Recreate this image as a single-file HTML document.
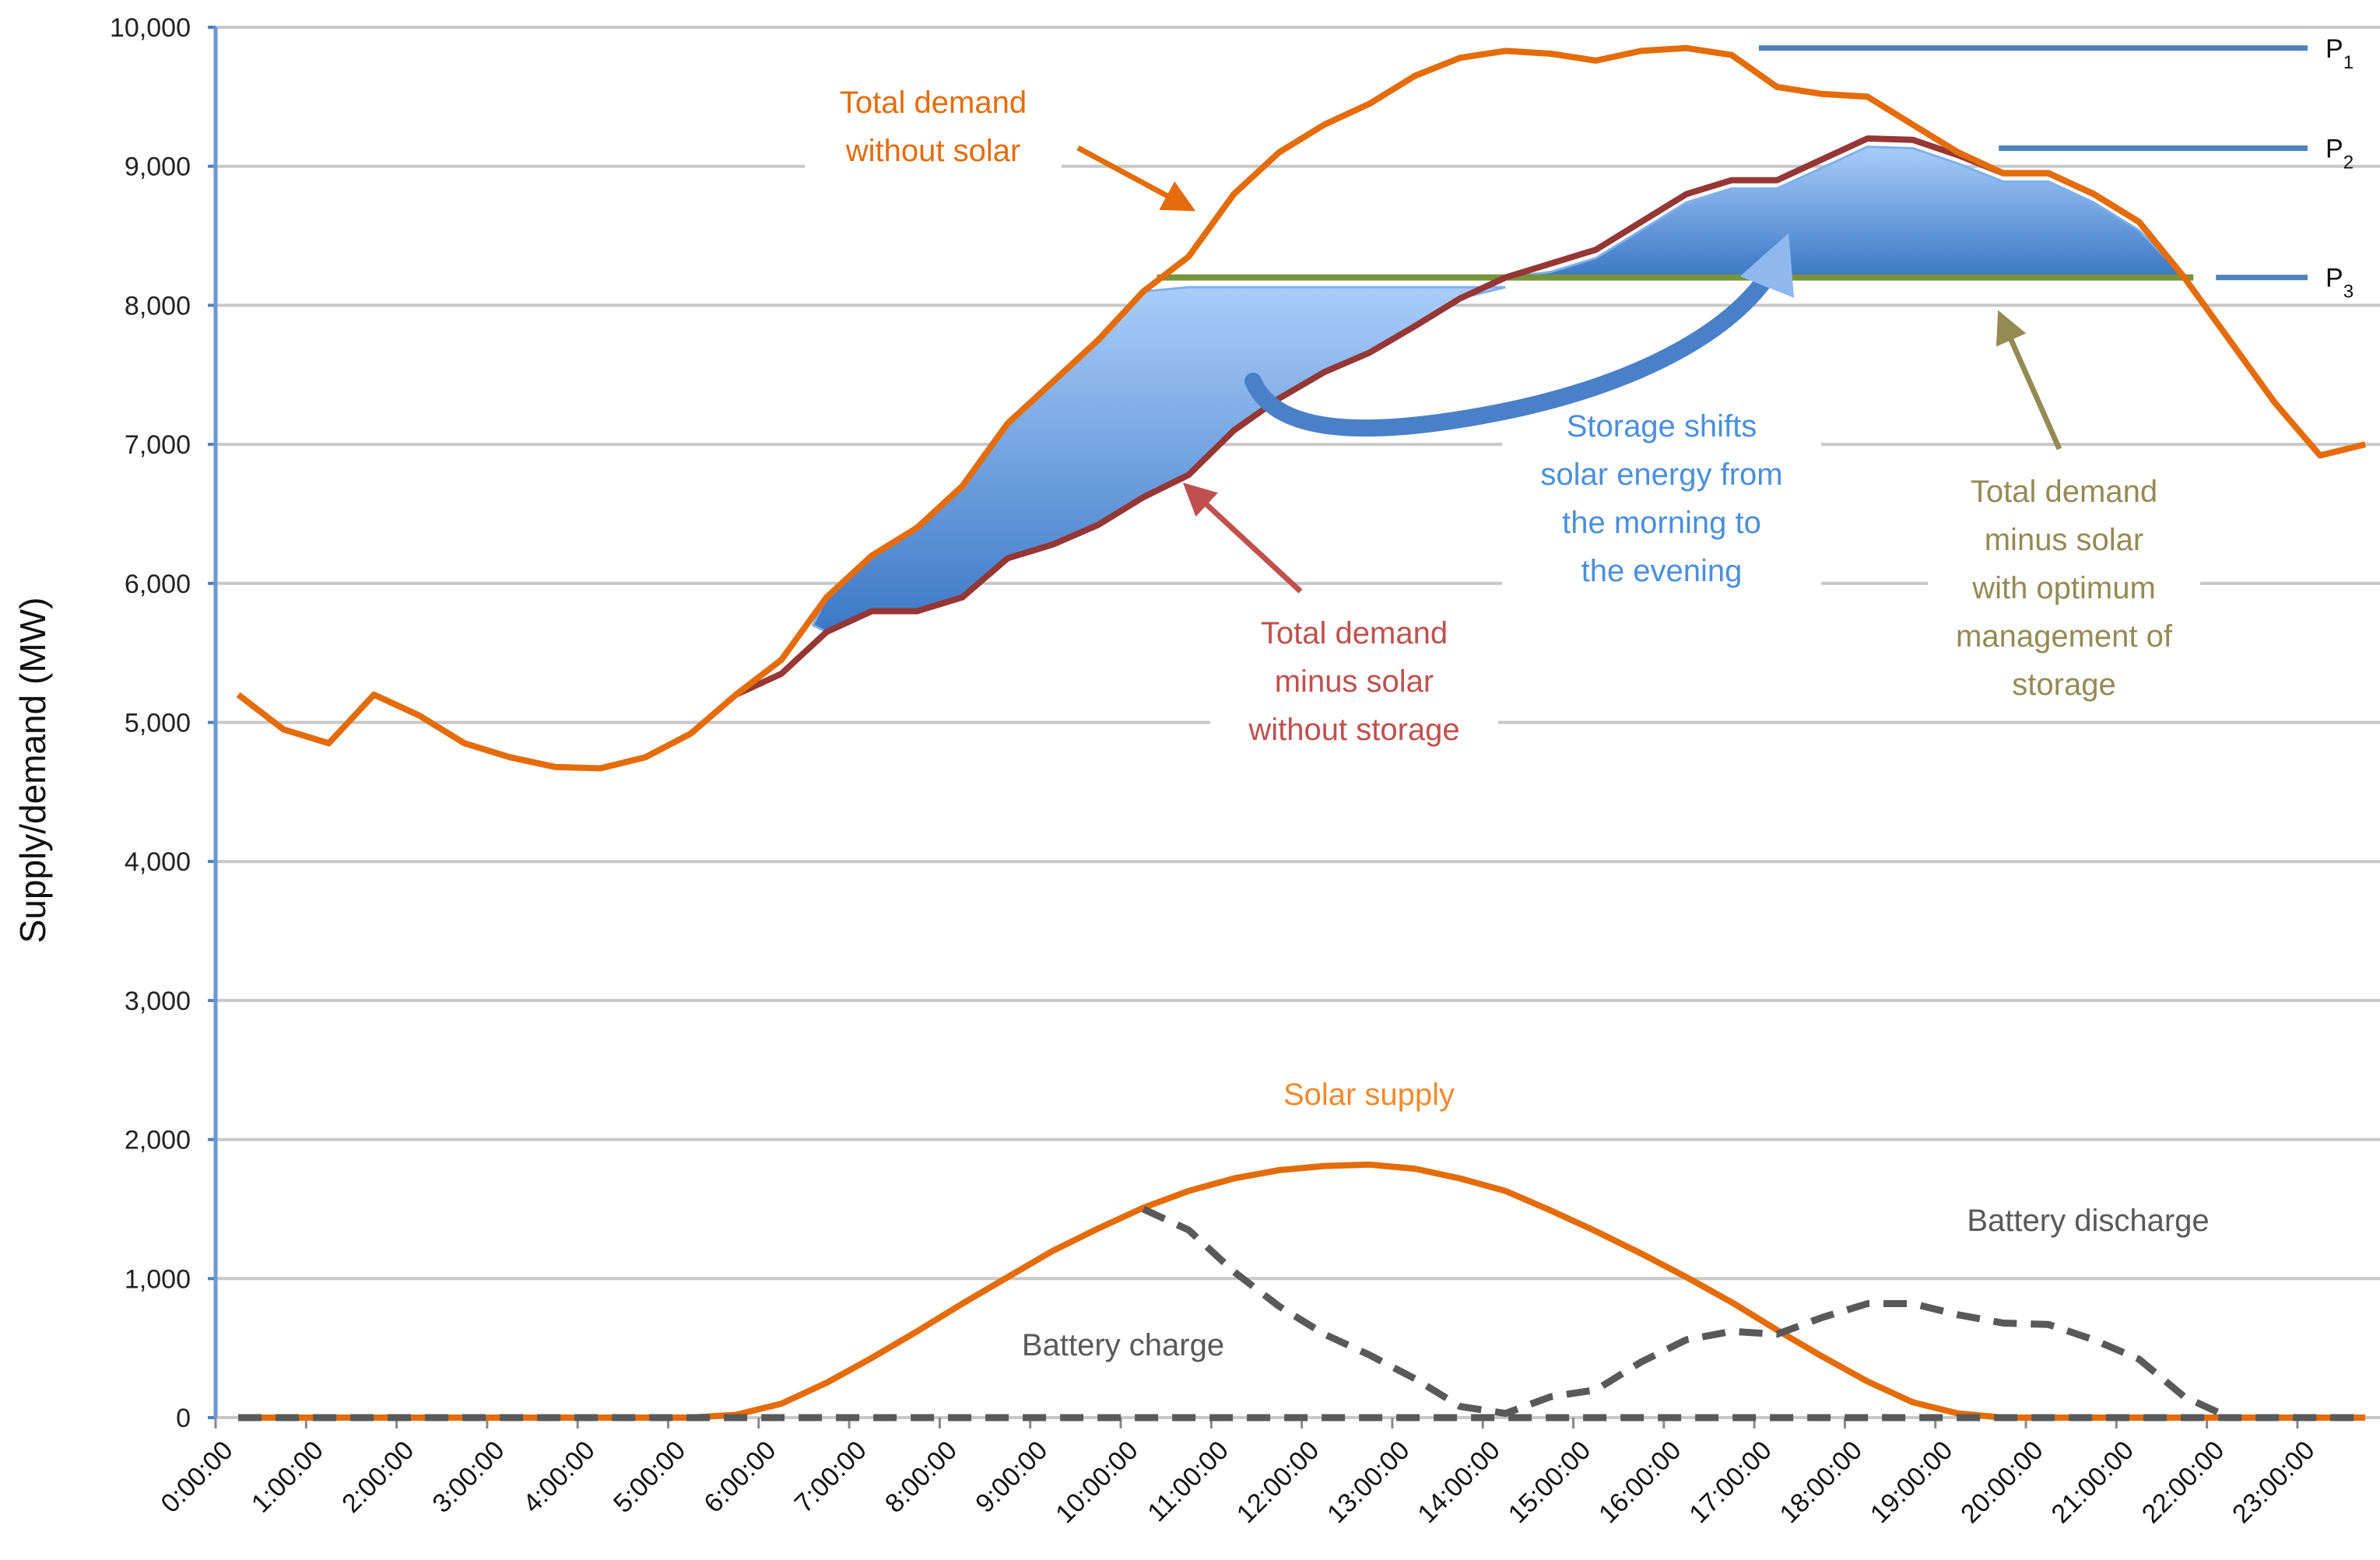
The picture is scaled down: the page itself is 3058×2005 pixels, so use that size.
<!DOCTYPE html>
<html><head><meta charset="utf-8"><style>
html,body{margin:0;padding:0;background:#fff;}
svg{display:block;font-family:"Liberation Sans",sans-serif;}
</style></head><body>
<svg id="chart" width="3058" height="2005" viewBox="0 0 3058 2005">
<defs>
<linearGradient id="bg" x1="0" y1="0" x2="0" y2="1">
<stop offset="0" stop-color="#a9cdfa"/><stop offset="1" stop-color="#3b78c6"/>
</linearGradient>
<marker id="ahO" markerWidth="6" markerHeight="6" refX="5" refY="3" orient="auto"><path d="M0,0 L6,3 L0,6 Z" fill="#e46c0a"/></marker>
<marker id="ahR" markerWidth="6" markerHeight="6" refX="5" refY="3" orient="auto"><path d="M0,0 L6,3 L0,6 Z" fill="#c0504d"/></marker>
<marker id="ahG" markerWidth="6" markerHeight="6" refX="5" refY="3" orient="auto"><path d="M0,0 L6,3 L0,6 Z" fill="#948a54"/></marker>
<marker id="ahB" markerWidth="3.4" markerHeight="3.4" refX="2.4" refY="1.7" orient="auto"><path d="M0,0 L3.4,1.7 L0,3.4 Z" fill="#8fb8ee"/></marker>
</defs>
<g id="grid"></g>
<g id="annotbg"></g>
<g id="marks"></g>
<g id="annot"></g>
</svg>
<script>
const yTicks=[0,1000,2000,3000,4000,5000,6000,7000,8000,9000,10000];
const yTickLabels=["0","1,000","2,000","3,000","4,000","5,000","6,000","7,000","8,000","9,000","10,000"];
const xTickLabels=["0:00:00","1:00:00","2:00:00","3:00:00","4:00:00","5:00:00","6:00:00","7:00:00","8:00:00","9:00:00","10:00:00","11:00:00","12:00:00","13:00:00","14:00:00","15:00:00","16:00:00","17:00:00","18:00:00","19:00:00","20:00:00","21:00:00","22:00:00","23:00:00"];
const hours=[0.25,0.75,1.25,1.75,2.25,2.75,3.25,3.75,4.25,4.75,5.25,5.75,6.25,6.75,7.25,7.75,8.25,8.75,9.25,9.75,10.25,10.75,11.25,11.75,12.25,12.75,13.25,13.75,14.25,14.75,15.25,15.75,16.25,16.75,17.25,17.75,18.25,18.75,19.25,19.75,20.25,20.75,21.25,21.75,22.25,22.75,23.25,23.75];
const demand=[5200,4950,4850,5200,5050,4850,4750,4680,4670,4750,4920,5200,5450,5900,6200,6400,6700,7150,7450,7750,8100,8350,8800,9100,9300,9450,9650,9780,9830,9810,9760,9830,9850,9800,9570,9520,9500,9300,9100,8950,8950,8800,8600,8200,7750,7300,6920,7000];
const netDemand=[5200,4950,4850,5200,5050,4850,4750,4680,4670,4750,4920,5200,5350,5650,5800,5800,5900,6180,6280,6420,6620,6780,7100,7330,7520,7660,7850,8050,8200,8300,8400,8600,8800,8900,8900,9050,9200,9190,9080,8950,8950,8800,8600,8200,7750,7300,6920,7000];
const solar=[0,0,0,0,0,0,0,0,0,0,0,20,100,250,430,620,820,1010,1200,1360,1510,1630,1720,1780,1810,1820,1790,1720,1630,1490,1340,1180,1010,830,630,440,260,110,30,0,0,0,0,0,0,0,0,0];
const battery=[0,0,0,0,0,0,0,0,0,0,0,0,0,0,0,0,0,0,0,0,1500,1350,1050,800,600,450,280,80,30,150,200,400,560,620,600,720,820,820,740,680,670,560,420,150,0,0,0,0];
const zeroLine=[0,0,0,0,0,0,0,0,0,0,0,0,0,0,0,0,0,0,0,0,0,0,0,0,0,0,0,0,0,0,0,0,0,0,0,0,0,0,0,0,0,0,0,0,0,0,0,0];
const capLevels=[9850,9130,8200];
const capLabels=["P","P","P"];
const capSubs=["1","2","3"];
const capStart=[17.05,19.7,22.1];
const optimumLevel=8200;
const morningCap=8130;

const NS="http://www.w3.org/2000/svg";
const X=h=>277+h*116.3;
const Y=v=>1822-v*0.1787;
function mk(tag,attrs,parent){const e=document.createElementNS(NS,tag);for(const k in attrs)e.setAttribute(k,attrs[k]);parent.appendChild(e);return e;}
const grid=document.getElementById('grid'),marks=document.getElementById('marks');

yTicks.forEach((v,i)=>{
  const l=mk('line',{x1:X(0),x2:3058,y1:Y(v),y2:Y(v),stroke:'#c8c8c8','stroke-width':4},grid);
  
  
  const t=mk('line',{x1:X(0)-10,x2:X(0),y1:Y(v),y2:Y(v),stroke:'#4f81bd','stroke-width':4},grid);
  
  
  const tx=mk('text',{x:X(0)-32,y:Y(v)+12,'text-anchor':'end','font-size':34,fill:'#222'},grid);
  tx.textContent=yTickLabels[i];
  
  
});
xTickLabels.forEach((s,h)=>{
  const t=mk('line',{x1:X(h),x2:X(h),y1:Y(0),y2:Y(0)+14,stroke:'#888','stroke-width':3},grid);
  
  
  const tx=mk('text',{x:X(h)+24,y:1866,'text-anchor':'end','font-size':34,fill:'#111',transform:`rotate(-45 ${X(h)+24} 1866)`},grid);
  tx.textContent=s;
  
  
});
const ax=mk('line',{x1:X(0),x2:X(0),y1:Y(10000),y2:Y(0),stroke:'#6a98d4','stroke-width':5},grid);


const yt=mk('text',{x:0,y:0,'text-anchor':'middle','font-size':46,fill:'#111',transform:'translate(58 990) rotate(-90)'},grid);
yt.textContent='Supply/demand (MW)';



let topPts=[],botPts=[];
hours.forEach((h,i)=>{ if(h>=6.75&&h<=14.25){topPts.push([X(h),Y(Math.min(demand[i],morningCap))]);botPts.push([X(h),Y(Math.min(netDemand[i],morningCap))]);}});
let pts=[[X(6.6),Y(5700)]].concat(topPts,botPts.reverse());
const mf=mk('polygon',{points:pts.map(p=>p.join(',')).join(' '),fill:'url(#bg)',stroke:'#7fb0ec','stroke-width':3},marks);


let ev=[];
hours.forEach((h,i)=>{ if(h>=14.25&&h<=21.75) ev.push([X(h),Y(Math.max(netDemand[i]-60,optimumLevel))]);});
ev.push([X(21.75),Y(optimumLevel)]);ev.push([X(14.25),Y(optimumLevel)]);
const ef=mk('polygon',{points:ev.map(p=>p.join(',')).join(' '),fill:'url(#bg)',stroke:'#7fb0ec','stroke-width':3},marks);



function drawLine(arr,i0,i1,attrs,name){
  let d='';for(let i=i0;i<=i1;i++)d+=(i==i0?'M':'L')+X(hours[i]).toFixed(1)+','+Y(arr[i]).toFixed(1);
  const p=mk('path',Object.assign({d:d,fill:'none','stroke-linejoin':'round'},attrs),marks);
  
  
}
const opt=mk('line',{x1:X(10.4),x2:X(21.85),y1:Y(optimumLevel),y2:Y(optimumLevel),stroke:'#77933c','stroke-width':8},marks);


drawLine(netDemand,11,43,{stroke:'#953735','stroke-width':8},'net-demand-line');
drawLine(demand,0,47,{stroke:'#e46c0a','stroke-width':8},'total-demand-line');
drawLine(solar,0,47,{stroke:'#e46c0a','stroke-width':8},'solar-supply-line');
drawLine(zeroLine,0,47,{stroke:'#595959','stroke-width':9,'stroke-dasharray':'30 18'},'battery-zero-line');
drawLine(battery,20,44,{stroke:'#595959','stroke-width':9,'stroke-dasharray':'30 18'},'battery-line');

capLevels.forEach((v,i)=>{
  const l=mk('line',{x1:X(capStart[i]),x2:2965,y1:Y(v),y2:Y(v),stroke:'#4f81bd','stroke-width':7},marks);
  
  
  const t=mk('text',{x:2988,y:Y(v)+12,'font-size':34,fill:'#111'},marks);
  t.textContent=capLabels[i];
  const s=mk('tspan',{dy:14,'font-size':24},t);s.textContent=capSubs[i];
  
  
});
</script>
<script>
(function(){
const NS="http://www.w3.org/2000/svg";const annot=document.getElementById('annot');const annotbg=document.getElementById('annotbg');
function mk(tag,attrs,parent){const e=document.createElementNS(NS,tag);for(const k in attrs)e.setAttribute(k,attrs[k]);parent.appendChild(e);return e;}
function label(lines,cx,y0,dy,color,name,w){
  const g=mk('g',{},annot);
  
  
  lines.forEach((s,i)=>{
    mk('rect',{x:cx-w/2,y:y0+i*dy-34,width:w,height:dy,fill:'#fff'},annotbg);
  });
  lines.forEach((s,i)=>{const t=mk('text',{x:cx,y:y0+i*dy,'text-anchor':'middle','font-size':40,fill:color},g);t.textContent=s;});
}
label(['Total demand','without solar'],1199,145,62,'#e46c0a','total-demand-label',330);
label(['Total demand','minus solar','without storage'],1740,827,62,'#c0504d','net-demand-label',370);
label(['Storage shifts','solar energy from','the morning to','the evening'],2135,561,62,'#4a8fdd','storage-shift-label',410);
label(['Total demand','minus solar','with optimum','management of','storage'],2652,645,62,'#948a54','optimum-label',350);
label(['Solar supply'],1759,1420,62,'#f08a2c','solar-supply-label',280);
label(['Battery discharge'],2683,1582,62,'#595959','battery-discharge-label',380);
label(['Battery charge'],1443,1742,62,'#595959','battery-charge-label',320);
const a1=mk('line',{x1:1385,y1:190,x2:1530,y2:268,stroke:'#e46c0a','stroke-width':7,'marker-end':'url(#ahO)'},annot);

const a2=mk('line',{x1:1671,y1:760,x2:1525,y2:625,stroke:'#c0504d','stroke-width':7,'marker-end':'url(#ahR)'},annot);

const a3=mk('line',{x1:2646,y1:577,x2:2570,y2:405,stroke:'#948a54','stroke-width':7,'marker-end':'url(#ahG)'},annot);

const a4=mk('path',{d:'M1610,490 C1640,560 1760,560 1900,535 C2100,500 2250,420 2290,320',fill:'none',stroke:'#4a80c8','stroke-width':22,'stroke-linecap':'round','marker-end':'url(#ahB)'},annot);

})();
</script>
</body></html>
